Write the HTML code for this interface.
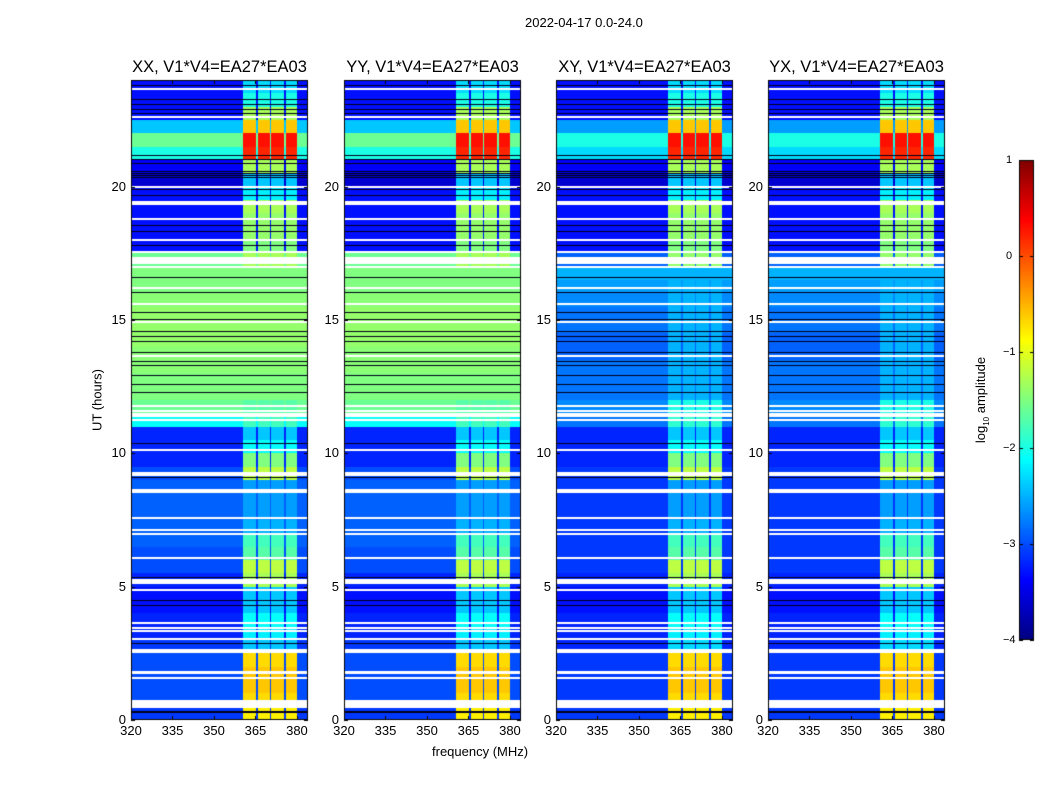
<!DOCTYPE html>
<html><head><meta charset="utf-8">
<style>
body{margin:0;background:#fff;width:1050px;height:800px;overflow:hidden;font-family:"Liberation Sans",sans-serif;}
#root{position:relative;width:1050px;height:800px;}
canvas{position:absolute;left:0;top:0;}
.t{position:absolute;font-size:13px;color:#000;white-space:nowrap;}
.ttl{position:absolute;font-size:16.5px;white-space:nowrap;transform:translateX(-50%);}
</style></head>
<body>
<div id="root">
<canvas id="cv" width="1050" height="800"></canvas>
<div class="t" style="left:525px;top:15px">2022-04-17 0.0-24.0</div>
<div class="t" style="left:97px;top:400px;transform:translate(-50%,-50%) rotate(-90deg)">UT (hours)</div>
<div class="t" style="left:432px;top:744px">frequency (MHz)</div>
<div class="t" style="left:982px;top:400px;transform:translate(-50%,-50%) rotate(-90deg)">log<sub style="font-size:8px">10</sub> amplitude</div>
</div>
<script>
// ---- data ----
const panelNames = ["XX, V1*V4=EA27*EA03","YY, V1*V4=EA27*EA03","XY, V1*V4=EA27*EA03","YX, V1*V4=EA27*EA03"];
const panelKinds = ["par","par","cross","cross"];
const bgPar = [-3.1,-3.0,-3.0,-3.0,-3.0,-3.1,-3.2,-3.2,-3.3,-3.3,-3.2,-3.0,-3.0,-2.9,-2.9,-2.9,-2.9,-2.9,-3.0,-3.2,-3.2,-3.2,
  -2.1,-1.6, -1.5,-1.5,-1.45,-1.45,-1.4,-1.4,-1.4,-1.45,-1.5,-1.5, -1.6, -3.3,-3.3,-3.3,-3.3,-3.3,
  -3.6,-3.4,-2.0,-1.6,-2.4,-3.3,-3.3,-3.3];
const bgCross = [-3.1,-3.1,-3.1,-3.1,-3.1,-3.2,-3.2,-3.2,-3.3,-3.3,-3.2,-3.1,-3.1,-3.1,-3.1,-3.1,-3.1,-3.1,-3.1,-3.2,-3.2,-3.2,
  -2.8,-2.7, -2.8,-2.8,-2.8,-2.9,-2.9,-2.8,-2.8,-2.7,-2.6,-2.5, -2.9, -3.3,-3.3,-3.3,-3.3,-3.3,
  -3.6,-3.4,-2.3,-2.0,-2.6,-3.3,-3.3,-3.3];
const rfiPar = [-0.8,-0.7,-0.6,-0.6,-0.7,-2.4,-2.2,-2.1,-2.4,-2.4,-1.3,-1.2,-1.7,-1.8,-2.5,-2.6,-2.6,-2.6,-1.2,-1.5,-2.1,-2.4,
  -1.8,-1.7, null,null,null,null,null,null,null,null,null,null, -1.3,-1.5,-1.4,-1.4,-1.3,-2.2,
  -2.4,-1.3,0.2,0.3,-0.6,-1.3,-2.0,-2.3];
const rfiCross = [-0.8,-0.7,-0.6,-0.6,-0.7,-2.3,-2.2,-2.1,-2.4,-2.4,-1.3,-1.2,-1.7,-1.8,-2.5,-2.6,-2.6,-2.6,-1.2,-1.5,-2.1,-2.4,
  -1.9,-2.0, -2.5,-2.5,-2.5,-2.5,-2.5,-2.5,-2.5,-2.5,-2.5,-2.5, -1.4,-1.5,-1.4,-1.4,-1.3,-2.2,
  -2.4,-1.3,0.2,0.3,-0.6,-1.3,-2.0,-2.3];
const rfiBlockStart = [360.5,365.9,370.8,375.9];
const rfiBlockEnd   = [365.2,370.1,375.2,380.1];
const flagStart = [0.45,1.52,1.74,2.5,3.0,3.33,3.44,3.62,4.85,5.1,6.07,6.97,7.12,7.57,8.5,9.15,10.12,11.22,11.37,11.47,11.57,11.72,13.63,14.88,15.58,16.18,16.98,17.1,17.52,17.98,18.78,19.33,19.98,22.58,23.63];
const flagEnd   = [0.75,1.6,1.82,2.65,3.06,3.39,3.5,3.68,4.92,5.3,6.13,7.03,7.18,7.63,8.65,9.3,10.18,11.28,11.42,11.52,11.63,11.8,13.69,14.95,15.64,16.24,17.04,17.35,17.58,18.04,18.84,19.48,20.02,22.65,23.69];
const blackLines = [20.35,20.42,20.5,20.58,20.9,21.05,21.2,22.75,22.9,23.1,23.3,23.8,19.7,19.9,18.55,18.35,17.8,16.6,16.05,15.3,15.05,14.6,14.4,14.2,13.8,13.45,13.3,12.95,12.6,12.3,10.4,9.1,5.35,4.5,4.3,2.9,0.35,0.3];
const yTicks = [0,5,10,15,20];
const xTicks = [320,335,350,365,380];
const cbTicks = [1,0,-1,-2,-3,-4];

// ---- layout ----
const panelLeft = [131,344,556,768];
const PW = 177, PTOP = 80, PBOT = 720;
const F0 = 320, F1 = 384, T0 = 0, T1 = 24;
const cv = document.getElementById('cv'), ctx = cv.getContext('2d');
const root = document.getElementById('root');

function jet(v){
  let x = Math.max(0,Math.min(1,(v+4)/5));
  function c(a){return Math.max(0,Math.min(1,a));}
  const r = c(1.5-Math.abs(4*x-3)), g = c(1.5-Math.abs(4*x-2)), b = c(1.5-Math.abs(4*x-1));
  return `rgb(${Math.round(r*255)},${Math.round(g*255)},${Math.round(b*255)})`;
}
function xs(p,f){return panelLeft[p] + (f-F0)/(F1-F0)*PW;}
function ys(t){return PBOT - (t-T0)/(T1-T0)*(PBOT-PTOP);}
function inRfi(f){for(let k=0;k<rfiBlockStart.length;k++){if(f>=rfiBlockStart[k]&&f<rfiBlockEnd[k])return true;}return false;}

function addText(txt,x,y,name,align){
  const d=document.createElement('div');
  d.className='t'; d.textContent=txt;
  d.style.left=x+'px'; d.style.top=y+'px';
  if(align==='center') d.style.transform='translateX(-50%)';
  if(align==='right') d.style.transform='translateX(-100%)';
  
  
  root.appendChild(d);
}

for(let p=0;p<4;p++){
  const bg = panelKinds[p]==='par'?bgPar:bgCross;
  const rf = panelKinds[p]==='par'?rfiPar:rfiCross;
  for(let i=0;i<bg.length;i++){
    const ta=i*0.5, tb=ta+0.5;
    const y0=Math.round(ys(tb)), y1=Math.round(ys(ta));
    for(let px=0; px<PW; px++){
      const f = F0 + (px+0.5)/PW*(F1-F0);
      let v = bg[i];
      if(rf[i]!==null && inRfi(f)) v = rf[i];
      ctx.fillStyle = jet(v);
      ctx.fillRect(panelLeft[p]+px,y0,1,y1-y0);
    }
  }
  ctx.fillStyle='#000018';
  blackLines.forEach(t=>{ctx.fillRect(panelLeft[p],Math.round(ys(t)),PW,1);});
  ctx.fillStyle='#fff';
  for(let k=0;k<flagStart.length;k++){
    const ya=Math.round(ys(flagEnd[k])), yb=Math.round(ys(flagStart[k]));
    ctx.fillRect(panelLeft[p],ya,PW,Math.max(2,yb-ya));
  }
  ctx.strokeStyle='#000'; ctx.lineWidth=1;
  ctx.strokeRect(panelLeft[p]+0.5,PTOP+0.5,PW-1,PBOT-PTOP-1);
  ctx.beginPath();
  yTicks.forEach(t=>{const y=Math.round(ys(t))+0.5;ctx.moveTo(panelLeft[p],y);ctx.lineTo(panelLeft[p]+4,y);ctx.moveTo(panelLeft[p]+PW,y);ctx.lineTo(panelLeft[p]+PW-4,y);
    addText(String(t), panelLeft[p]-5, ys(t)-8, 'y-tick-label', 'right');});
  xTicks.forEach(f=>{const x=Math.round(xs(p,f))+0.5;ctx.moveTo(x,PBOT);ctx.lineTo(x,PBOT-4);ctx.moveTo(x,PTOP);ctx.lineTo(x,PTOP+4);
    addText(String(f), xs(p,f), PBOT+3, 'x-tick-label', 'center');});
  ctx.stroke();
  const tt=document.createElement('div');
  tt.className='ttl'; tt.textContent=panelNames[p];
  tt.style.left=(panelLeft[p]+PW/2)+'px'; tt.style.top='58px';
  
  
  root.appendChild(tt);
}

const CBX=1019, CBW=15, CBT=160, CBB=640;
for(let y=CBT;y<CBB;y++){
  const v = 1 - (y-CBT+0.5)/(CBB-CBT)*5;
  ctx.fillStyle=jet(v); ctx.fillRect(CBX,y,CBW,1);
}
ctx.strokeStyle='#000'; ctx.strokeRect(CBX+0.5,CBT+0.5,CBW-1,CBB-CBT-1);
ctx.beginPath();
cbTicks.forEach(v=>{
  const y=Math.round(CBT+(1-v)/5*(CBB-CBT))+0.5;
  ctx.moveTo(CBX+CBW,y);ctx.lineTo(CBX+CBW-4,y);ctx.moveTo(CBX,y);ctx.lineTo(CBX+4,y);
  const d=document.createElement('div');
  d.className='t'; d.style.fontSize='11px';
  d.textContent = v<0 ? '\u2212'+Math.abs(v) : String(v);
  d.style.left = (v<0?1003:1006)+'px'; d.style.top=(y-7)+'px';
  
  
  root.appendChild(d);
});
ctx.stroke();
</script>
</body></html>
